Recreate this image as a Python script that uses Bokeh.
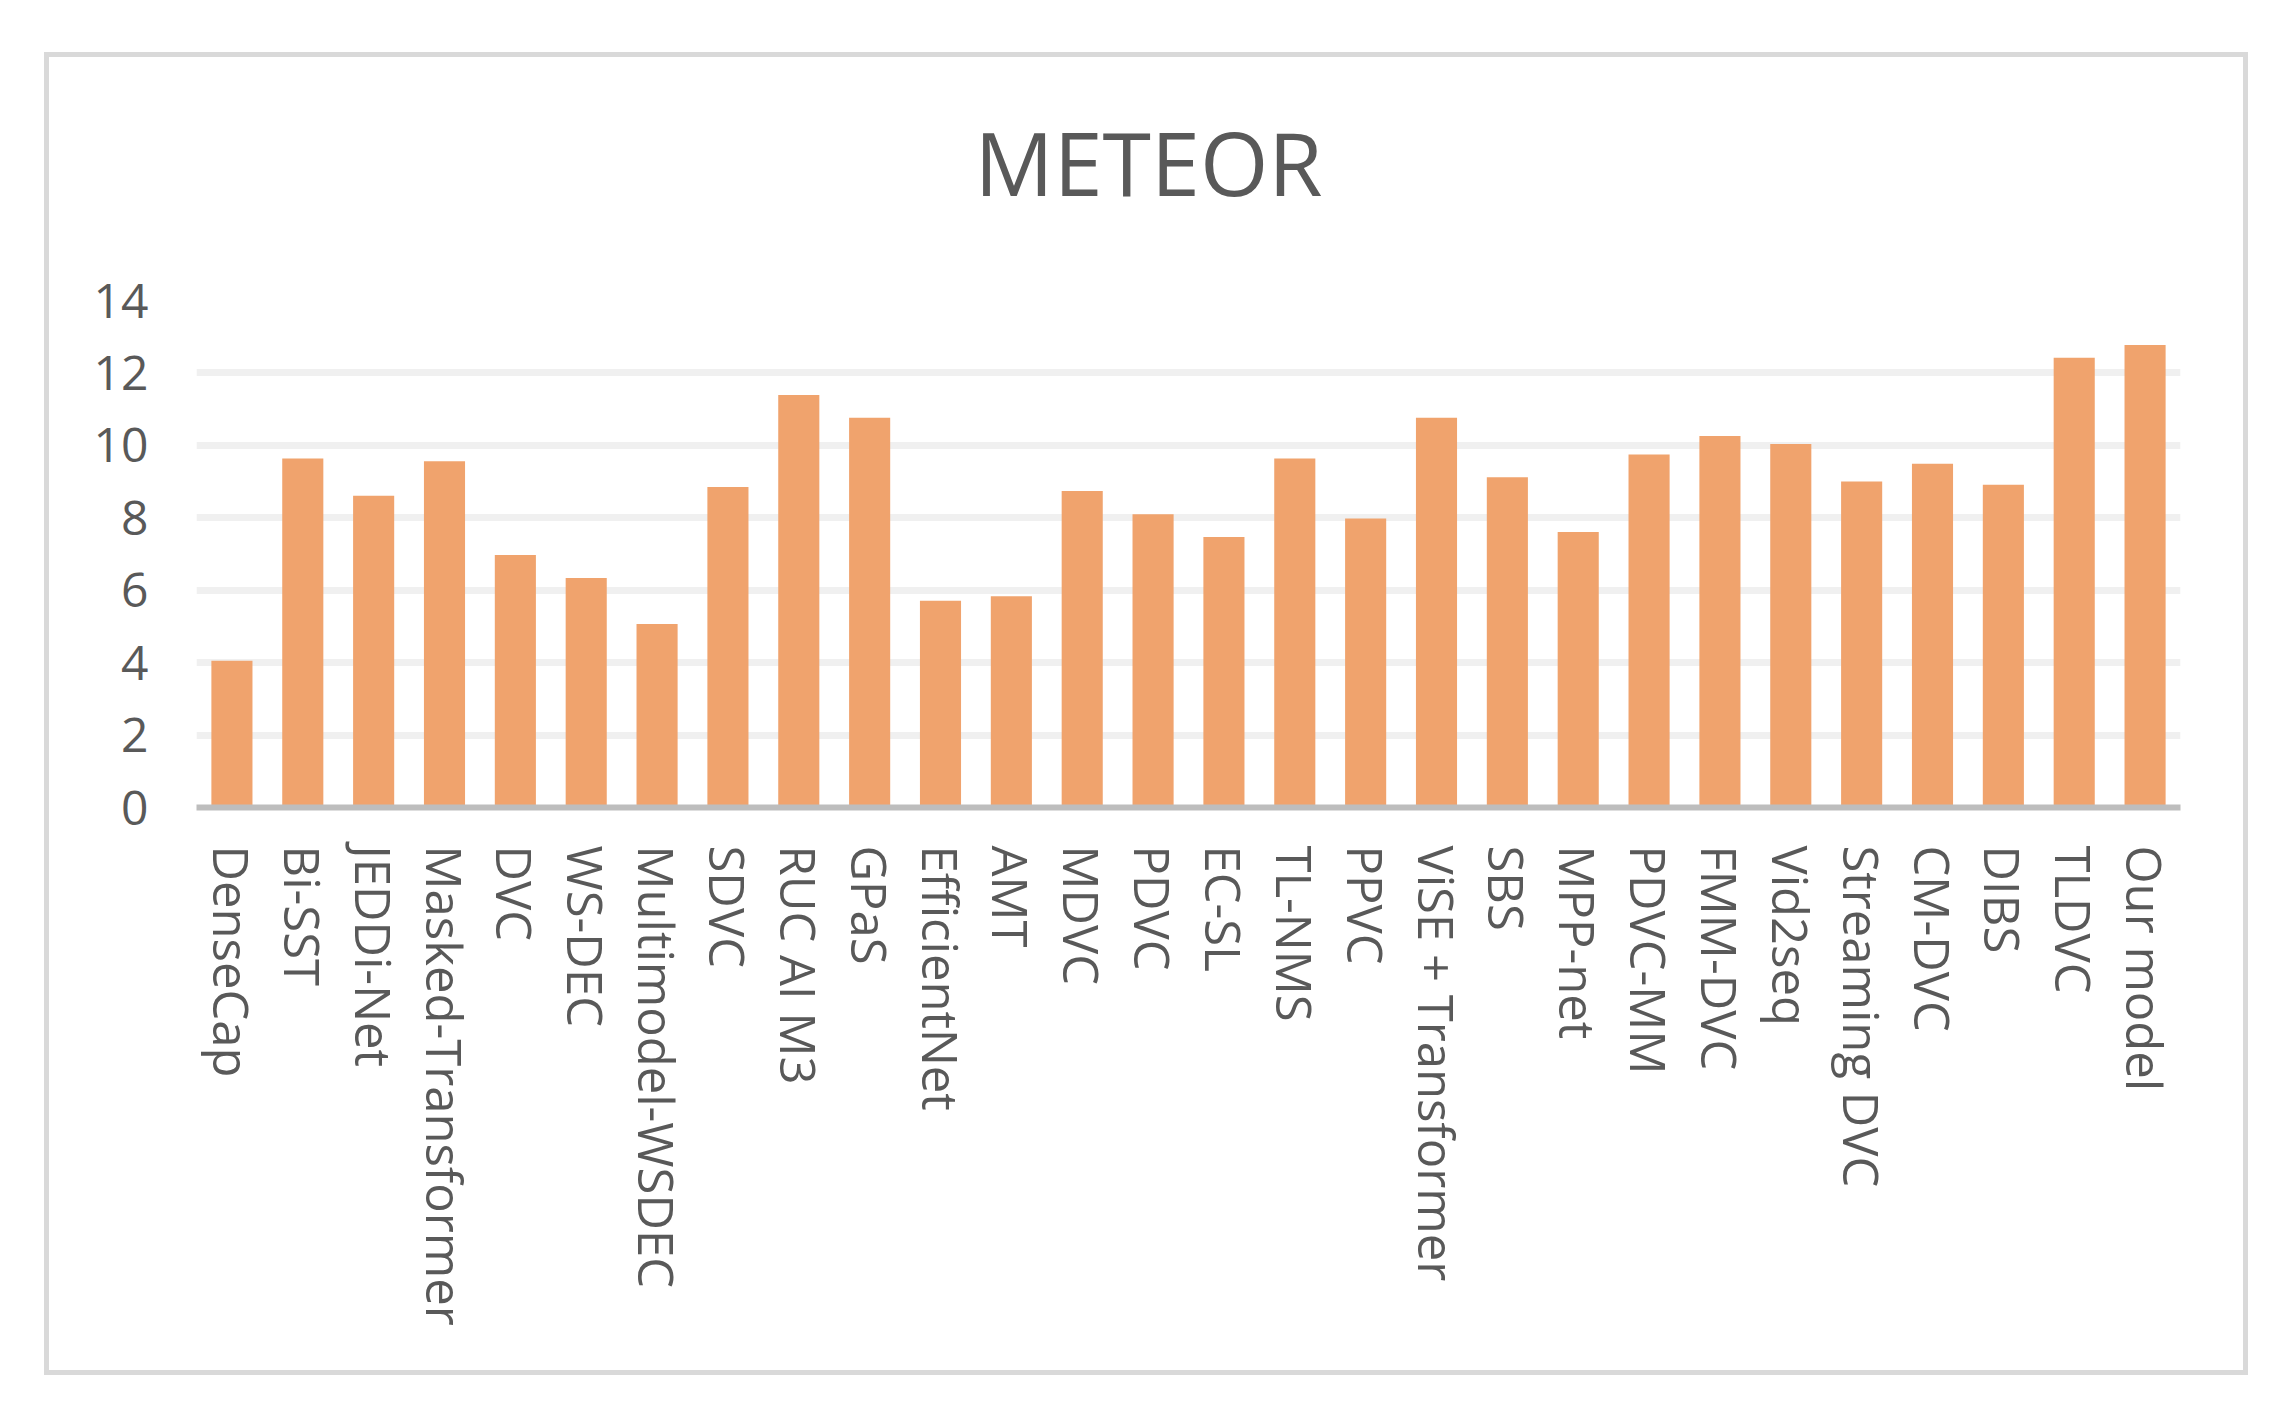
from bokeh.plotting import figure
from bokeh.models import FactorRange, Range1d, FixedTicker, Title
from bokeh.embed import file_html
from bokeh.resources import INLINE

categories = ["DenseCap", "Bi-SST", "JEDDi-Net", "Masked-Transformer", "DVC", "WS-DEC",
              "Multimodel-WSDEC", "SDVC", "RUC AI M3", "GPaS", "EfficientNet", "AMT",
              "MDVC", "PDVC", "EC-SL", "TL-NMS", "PPVC", "ViSE + Transformer", "SBS",
              "MPP-net", "PDVC-MM", "FMM-DVC", "Vid2seq", "Streaming  DVC", "CM-DVC",
              "DIBS", "TLDVC", "Our model"]
meteor = [4.05, 9.64, 8.61, 9.56, 6.97, 6.34, 5.07, 8.85, 11.39, 10.76, 5.71, 5.83,
          8.74, 8.10, 7.47, 9.64, 7.98, 10.76, 9.12, 7.61, 9.75, 10.26, 10.04, 9.00,
          9.49, 8.91, 12.42, 12.77]
y_ticks = [0, 2, 4, 6, 8, 10, 12, 14]
title_text = "METEOR"

FONT = "Open Sans"
GREY = "#595959"

p = figure(
    width=2194, height=1313,
    x_range=FactorRange(*categories, range_padding=0, factor_padding=0),
    y_range=Range1d(0, 14),
    output_backend="svg", toolbar_location=None,
    min_border_left=147, min_border_right=63, min_border_top=243, min_border_bottom=563,
)
p.title_location = None
p.margin = (57, 0, 0, 49)
p.styles = {"box-shadow": "0 0 0 5px #d9d9d9"}
p.outline_line_color = None
p.background_fill_color = "white"
p.border_fill_color = "white"

p.vbar(x=categories, top=meteor, width=0.58, bottom=0,
       fill_color="#F0A36D", line_color=None)

# spacer between title and plot area, then the title itself
spacer = Title(text=" ", text_font_size="1px", standoff=36)
p.add_layout(spacer, "above")
t = Title(text=title_text, align="left", text_font=FONT, text_font_size="88px",
          text_font_style="normal", text_color=GREY, standoff=80, offset=778)
p.add_layout(t, "above")

# y axis
p.yaxis.ticker = FixedTicker(ticks=y_ticks)
p.yaxis.axis_line_color = None
p.yaxis.major_tick_line_color = None
p.yaxis.minor_tick_line_color = None
p.yaxis.major_label_text_font = FONT
p.yaxis.major_label_text_font_size = "48px"
p.yaxis.major_label_text_color = GREY
p.yaxis.major_label_standoff = 42

# x axis
p.xaxis.axis_line_color = "#bdbdbd"
p.xaxis.axis_line_width = 6
p.xaxis.major_tick_line_color = None
p.xaxis.major_label_orientation = "vertical"
p.xaxis.major_label_text_font = FONT
p.xaxis.major_label_text_font_size = "49px"
p.xaxis.major_label_text_color = GREY
p.xaxis.major_label_standoff = 32

# grid
p.xgrid.grid_line_color = None
p.ygrid.ticker = FixedTicker(ticks=y_ticks)
p.ygrid.grid_line_color = "#f0f0f0"
p.ygrid.grid_line_width = 7

open("out.html", "w").write(file_html(p, INLINE))
